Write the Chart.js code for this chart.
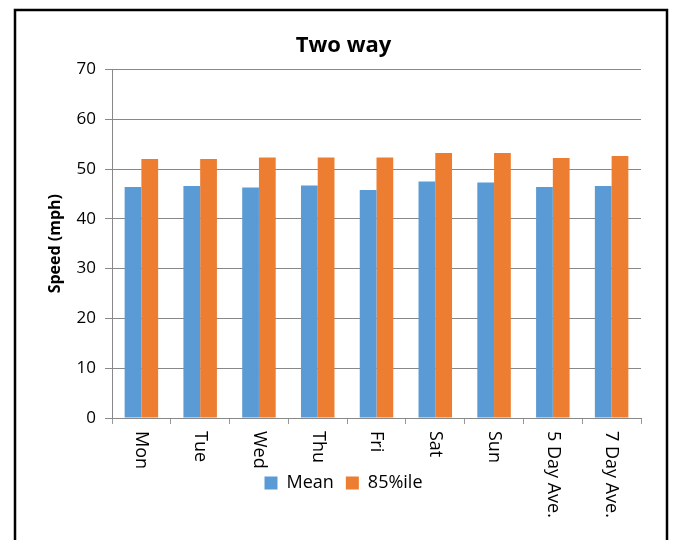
<!DOCTYPE html>
<html>
<head>
<meta charset="utf-8">
<script src="https://cdn.jsdelivr.net/npm/chart.js@4"></script>
<style>
  body { margin: 0; background: #fff; }
  #wrap { width: 681px; height: 540px; }
</style>
</head>
<body>
<div id="wrap"><canvas id="barChart" width="681" height="540"></canvas></div>
<script>
var days = ['Mon', 'Tue', 'Wed', 'Thu', 'Fri', 'Sat', 'Sun', '5 Day Ave.', '7 Day Ave.'];
var meanSpeed = [46.4, 46.6, 46.3, 46.7, 45.8, 47.5, 47.3, 46.4, 46.6];
var pct85Speed = [52.0, 52.0, 52.3, 52.3, 52.3, 53.2, 53.2, 52.2, 52.6];
var yTicks = [0, 10, 20, 30, 40, 50, 60, 70];

var fontFam = '"Open Sans", sans-serif';

// white page + black frame round the chart
var framePlugin = {
    id: 'frame',
    beforeDraw: function (chart) {
        var c = chart.ctx;
        c.save();
        c.fillStyle = '#fff';
        c.fillRect(0, 0, chart.width, chart.height);
        c.strokeStyle = '#000';
        c.lineWidth = 2.5;
        c.strokeRect(15, 10, 652, 545);
        c.restore();
    }
};

// category labels read top-to-bottom (turned clockwise)
var xLabelPlugin = {
    id: 'xLabels',
    afterDraw: function (chart) {
        var sc = chart.scales.x;
        var c = chart.ctx;
        c.save();
        c.font = '18px ' + fontFam;
        c.fillStyle = '#000';
        c.textAlign = 'left';
        c.textBaseline = 'middle';
        days.forEach(function (d, i) {
            c.save();
            c.translate(sc.getPixelForTick(i), sc.top + 13);
            c.rotate(Math.PI / 2);
            c.fillText(d, 0, 0);
            c.restore();
        });
        c.restore();
    }
};

var ctx = document.getElementById('barChart').getContext('2d');
var myChart = new Chart(ctx, {
    type: 'bar',
    data: {
        labels: days,
        datasets: [
            {
                label: 'Mean',
                data: meanSpeed,
                backgroundColor: '#5B9BD5',
                borderWidth: 0
            },
            {
                label: '85%ile',
                data: pct85Speed,
                backgroundColor: '#ED7D31',
                borderWidth: 0
            }
        ]
    },
    options: {
        responsive: false,
        animation: false,
        categoryPercentage: 0.57,
        barPercentage: 1,
        layout: {
            padding: { left: 46, right: 40, top: 22, bottom: 38 }
        },
        plugins: {
            legend: {
                position: 'bottom',
                labels: {
                    boxWidth: 13,
                    boxHeight: 13,
                    color: '#000',
                    padding: 12,
                    font: { family: fontFam, size: 18 }
                }
            },
            title: {
                display: true,
                text: 'Two way',
                color: '#000',
                font: { family: fontFam, size: 22, weight: 'bold' },
                padding: { top: 11, bottom: 10 }
            },
            tooltip: { enabled: false }
        },
        scales: {
            x: {
                grid: {
                    display: true,
                    offset: true,
                    drawOnChartArea: false,
                    drawTicks: true,
                    tickLength: 6,
                    color: '#999'
                },
                border: { color: '#888' },
                ticks: { display: false },
                afterFit: function (scale) { scale.height = 44; }
            },
            y: {
                min: 0,
                max: 70,
                afterBuildTicks: function (scale) {
                    scale.ticks = yTicks.map(function (v) { return { value: v }; });
                },
                grid: {
                    color: '#888',
                    tickLength: 7
                },
                border: { color: '#888' },
                ticks: {
                    color: '#000',
                    padding: 9,
                    font: { family: fontFam, size: 17 }
                },
                title: {
                    display: true,
                    text: 'Speed (mph)',
                    color: '#000',
                    padding: 0,
                    font: { family: fontFam, size: 16, weight: 'bold' }
                },
                afterFit: function (scale) { scale.width = 66; }
            }
        }
    },
    plugins: [framePlugin, xLabelPlugin]
});
</script>
</body>
</html>
